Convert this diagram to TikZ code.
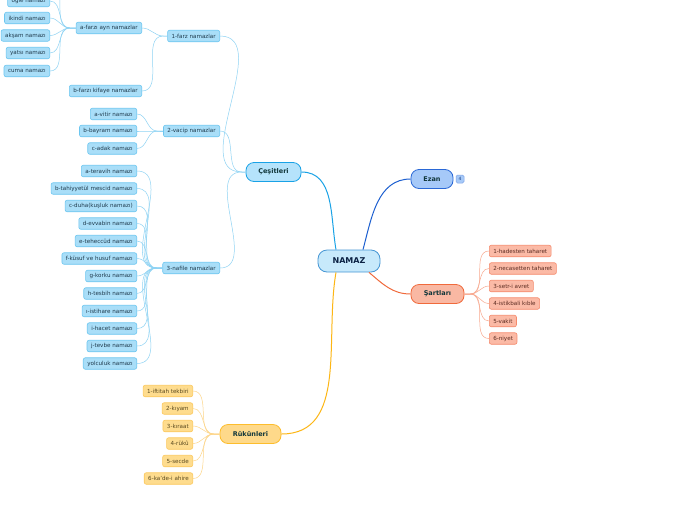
\documentclass[tikz,border=0pt]{standalone}
\usepackage{fontspec}
\setmainfont{DejaVu Sans}
\definecolor{bF}{HTML}{A9DEF8}
\definecolor{bB}{HTML}{6CC6F0}
\definecolor{bL}{HTML}{8ED3F4}
\definecolor{bT}{HTML}{1F3A4C}
\definecolor{cesF}{HTML}{B5E3FB}
\definecolor{cesB}{HTML}{19A2E6}
\definecolor{nmF}{HTML}{C7E9FB}
\definecolor{nmB}{HTML}{4596D4}
\definecolor{nmT}{HTML}{0B2244}
\definecolor{ezF}{HTML}{A6C9F8}
\definecolor{ezB}{HTML}{2A68D6}
\definecolor{ezL}{HTML}{1C5FD0}
\definecolor{sF}{HTML}{FBBAA6}
\definecolor{sB}{HTML}{F58A6C}
\definecolor{sL}{HTML}{F8A88E}
\definecolor{sM}{HTML}{F06A3C}
\definecolor{sMF}{HTML}{F9B8A3}
\definecolor{sT}{HTML}{5A2A20}
\definecolor{rF}{HTML}{FEDC8E}
\definecolor{rB}{HTML}{FCC85C}
\definecolor{rL}{HTML}{FDD588}
\definecolor{rM}{HTML}{FDB614}
\definecolor{rMF}{HTML}{FED98A}
\definecolor{rT}{HTML}{5A4A20}
\definecolor{mT}{HTML}{10363A}
\begin{document}
\begin{tikzpicture}[x=1pt,y=-1pt,
  leaf/.style={rounded corners=2pt, line width=0.6pt, font=\fontsize{5.6}{6.5}\selectfont, inner xsep=4pt, inner ysep=0pt, minimum height=11.5pt},
  bleaf/.style={leaf, draw=bB, fill=bF, text=bT},
  sleaf/.style={leaf, draw=sB, fill=sF, text=sT},
  rleaf/.style={leaf, draw=rB, fill=rF, text=rT},
  main/.style={rounded corners=8pt, line width=0.8pt, font=\fontsize{6.5}{8}\bfseries\selectfont, text=mT, minimum height=19pt, inner xsep=6pt},
  lnb/.style={draw=bL, line width=0.5pt},
  lns/.style={draw=sL, line width=0.5pt},
  lnr/.style={draw=rL, line width=0.5pt}]
\clip (0,0) rectangle (696,520);
\fill[white] (0,0) rectangle (696,520);

% main nodes
\node[main, draw=nmB, fill=nmF, text=nmT, font=\fontsize{8}{10}\bfseries\selectfont, minimum width=62pt, minimum height=22pt, rounded corners=9pt] (namaz) at (349,261) {NAMAZ};
\node[main, draw=cesB, fill=cesF, minimum width=55pt] (ces) at (273.5,172) {Çeşitleri};
\node[main, draw=ezB, fill=ezF, minimum width=42pt] (ezan) at (432,179) {Ezan};
\node[draw=ezB!60, fill=ezF, rounded corners=1.5pt, line width=0.5pt, font=\fontsize{4.5}{5}\selectfont, text=ezB!60!black, minimum width=8pt, minimum height=8pt, inner sep=0pt] (badge) at (460,179) {4};
\node[main, draw=sM, fill=sMF, minimum width=53pt] (sart) at (437.5,294) {Şartları};
\node[main, draw=rM!90, fill=rMF, minimum width=61pt] (ruk) at (250.5,434) {Rükünleri};

% main connectors
\draw[cesB, line width=1pt] ([xshift=-13pt]namaz.north) to[out=100,in=0] (ces.east);
\draw[ezL, line width=1pt] ([xshift=14pt]namaz.north) to[out=75,in=180] (ezan.west);
\draw[sM, line width=1pt] ([xshift=20pt]namaz.south) to[out=-40,in=180] (sart.west);
\draw[rM, line width=1pt] ([xshift=-13pt]namaz.south) to[out=-100,in=0] (ruk.east);

% Cesitleri level 2
\node[bleaf, anchor=east] (farz) at (220,36) {1-farz namazlar};
\node[bleaf, anchor=east] (vacip) at (220,131) {2-vacip namazlar};
\node[bleaf, anchor=east] (nafile) at (220,268) {3-nafile namazlar};
\foreach \c in {farz,vacip,nafile}
  \draw[lnb] (ces.west) -- ++(-4,0) to[out=180,in=0] (\c.east);

% farz level 3
\node[bleaf, anchor=east] (ayn) at (142,28) {a-farzı ayn namazlar};
\node[bleaf, anchor=east] (kifaye) at (142,91) {b-farzı kifaye namazlar};
\foreach \c in {ayn,kifaye}
  \draw[lnb] (farz.west) -- ++(-4,0) to[out=180,in=0] (\c.east);

% ayn leaves
\coordinate (sabah) at (50,-17);
\node[bleaf, anchor=east] (ogle) at (50,1) {öğle namazı};
\node[bleaf, anchor=east] (ikindi) at (50,18) {ikindi namazı};
\node[bleaf, anchor=east] (aksam) at (50,35.5) {akşam namazı};
\node[bleaf, anchor=east] (yatsi) at (50,53) {yatsı namazı};
\node[bleaf, anchor=east] (cuma) at (50,71) {cuma namazı};
\draw[lnb] (ayn.west) -- ++(-6,0) to[out=180,in=0] (sabah);
\foreach \c in {ogle,ikindi,aksam,yatsi,cuma}
  \draw[lnb] (ayn.west) -- ++(-6,0) to[out=180,in=0] (\c.east);

% vacip leaves
\node[bleaf, anchor=east] (vitir) at (137,114) {a-vitir namazı};
\node[bleaf, anchor=east] (bayram) at (137,131) {b-bayram namazı};
\node[bleaf, anchor=east] (adak) at (137,148.5) {c-adak namazı};
\foreach \c in {vitir,bayram,adak}
  \draw[lnb] (vacip.west) -- ++(-6,0) to[out=180,in=0] (\c.east);

% nafile leaves
\node[bleaf, anchor=east] (n1) at (137,171) {a-teravih namazı};
\node[bleaf, anchor=east] (n2) at (137,188.5) {b-tahiyyetül mescid namazı};
\node[bleaf, anchor=east] (n3) at (137,206) {c-duha(kuşluk namazı)};
\node[bleaf, anchor=east] (n4) at (137,223.5) {d-evvabin namazı};
\node[bleaf, anchor=east] (n5) at (137,241) {e-teheccüd namazı};
\node[bleaf, anchor=east] (n6) at (137,258.5) {f-küsuf ve husuf namazı};
\node[bleaf, anchor=east] (n7) at (137,276) {g-korku namazı};
\node[bleaf, anchor=east] (n8) at (137,293.5) {h-tesbih namazı};
\node[bleaf, anchor=east] (n9) at (137,311) {ı-istihare namazı};
\node[bleaf, anchor=east] (n10) at (137,328.5) {i-hacet namazı};
\node[bleaf, anchor=east] (n11) at (137,346) {j-tevbe namazı};
\node[bleaf, anchor=east] (n12) at (137,363.5) {yolculuk namazı};
\foreach \c in {n1,n2,n3,n4,n5,n6,n7,n8,n9,n10,n11,n12}
  \draw[lnb] (nafile.west) -- ++(-6,0) to[out=180,in=0] (\c.east);

% Sartlari leaves
\node[sleaf, anchor=west] (s1) at (489,251) {1-hadesten taharet};
\node[sleaf, anchor=west] (s2) at (489,268.5) {2-necasetten taharet};
\node[sleaf, anchor=west] (s3) at (489,286) {3-setr-i avret};
\node[sleaf, anchor=west] (s4) at (489,303.5) {4-istikbali kıble};
\node[sleaf, anchor=west] (s5) at (489,321) {5-vakit};
\node[sleaf, anchor=west] (s6) at (489,338.5) {6-niyet};
\foreach \c in {s1,s2,s3,s4,s5,s6}
  \draw[lns] (sart.east) -- ++(6,0) to[out=0,in=180] (\c.west);

% Rukunleri leaves
\node[rleaf, anchor=east] (r1) at (193,391) {1-iftitah tekbiri};
\node[rleaf, anchor=east] (r2) at (193,408.5) {2-kıyam};
\node[rleaf, anchor=east] (r3) at (193,426) {3-kıraat};
\node[rleaf, anchor=east] (r4) at (193,443.5) {4-rükû};
\node[rleaf, anchor=east] (r5) at (193,461) {5-secde};
\node[rleaf, anchor=east] (r6) at (193,478.5) {6-ka'de-i ahire};
\foreach \c in {r1,r2,r3,r4,r5,r6}
  \draw[lnr] (ruk.west) -- ++(-6,0) to[out=180,in=0] (\c.east);
\end{tikzpicture}
\end{document}
